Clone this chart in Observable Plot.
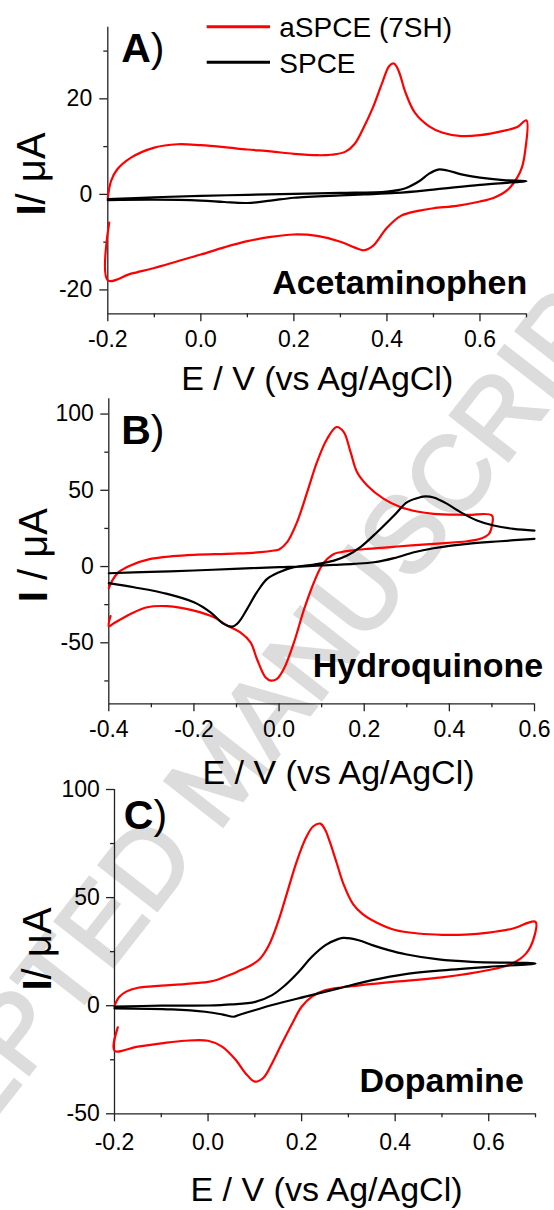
<!DOCTYPE html>
<html>
<head>
<meta charset="utf-8">
<script src="https://cdn.jsdelivr.net/npm/d3@7"></script>
<script src="https://cdn.jsdelivr.net/npm/@observablehq/plot@0.6"></script>
<style>
  body { margin: 0; background: #fff; }
  #root { position: relative; width: 554px; height: 1210px; overflow: hidden; background: #fff;
          font-family: "Liberation Sans", Arial, sans-serif; }
  .panel { position: absolute; left: 0; z-index: 1; }
  #wm { position: absolute; z-index: 0; white-space: nowrap; color: #dcdcdc; font-weight: normal;
        -webkit-text-stroke: 3px #dcdcdc;
        font-family: "Liberation Sans", Arial, sans-serif; font-size: 107px; line-height: 1; }
  #legend { position: absolute; left: 0; top: 0; z-index: 2; }
</style>
</head>
<body>
<div id="root"></div>
<script>
// ---------------- data ----------------
const seriesNames = ["aSPCE (7SH)", "SPCE"];
const seriesColors = ["#ff0000", "#000000"];
const panelLetters = ["A", "B", "C"];
const analytes = ["Acetaminophen", "Hydroquinone", "Dopamine"];
const xTitles = ["E / V (vs Ag/AgCl)", "E / V (vs Ag/AgCl)", "E / V (vs Ag/AgCl)"];
const yTitles = ["I/ μA", "I / μA", "I/ μA"];
const watermark = "ACCEPTED MANUSCRIPT";

const xDomains = [[-0.2, 0.7], [-0.4, 0.6], [-0.2, 0.7]];
const yDomains = [[-25, 35], [-90, 110], [-50, 100]];
const xMajorTicks = [[-0.2, 0.0, 0.2, 0.4, 0.6], [-0.4, -0.2, 0.0, 0.2, 0.4, 0.6], [-0.2, 0.0, 0.2, 0.4, 0.6]];
const xMinorTicks = [[-0.1, 0.1, 0.3, 0.5, 0.7], [-0.3, -0.1, 0.1, 0.3, 0.5], [-0.1, 0.1, 0.3, 0.5, 0.7]];
const yMajorTicks = [[-20, 0, 20], [-50, 0, 50, 100], [-50, 0, 50, 100]];
const yMinorTicks = [[-10, 10, 30], [-75, -25, 25, 75], [-25, 25, 75]];

// Acetaminophen [E (V), I (µA)]
const acetaminophen_aSPCE = [
  [-0.197,-5.9],[-0.2,-18.0],[-0.15,-16.6],[-0.1,-15.4],[-0.05,-14.0],[0.0,-12.6],[0.05,-11.1],[0.1,-9.8],
  [0.15,-8.9],[0.2,-8.4],[0.25,-8.7],[0.3,-9.9],[0.33,-11.1],[0.35,-11.7],[0.37,-10.8],[0.4,-7.0],[0.43,-4.5],
  [0.47,-3.4],[0.5,-2.9],[0.55,-2.4],[0.6,-1.5],[0.63,-0.7],[0.66,1.0],[0.68,3.5],[0.69,5.6],[0.697,9.0],[0.7,15.5],
  [0.68,14.1],[0.65,13.3],[0.6,12.4],[0.56,12.2],[0.52,12.9],[0.49,14.3],[0.46,17.1],[0.44,21.3],[0.425,25.9],
  [0.415,27.4],[0.405,26.9],[0.39,23.4],[0.37,18.2],[0.35,14.0],[0.33,10.5],[0.31,8.9],[0.28,8.3],[0.25,8.2],
  [0.2,8.5],[0.15,9.0],[0.1,9.4],[0.05,9.9],[0.0,10.3],[-0.05,10.5],[-0.1,9.8],[-0.15,7.7],[-0.18,5.2],
  [-0.193,2.8],[-0.2,-0.7]
];
const acetaminophen_SPCE = [
  [-0.2,-1.0],[-0.1,-0.6],[0.0,-0.3],[0.1,-0.1],[0.2,0.1],[0.3,0.3],[0.4,0.6],[0.44,1.3],[0.47,2.8],[0.49,4.3],
  [0.51,5.2],[0.53,5.0],[0.56,4.2],[0.6,3.5],[0.65,3.0],[0.7,2.8],
  [0.6,2.0],[0.5,1.0],[0.42,0.3],[0.35,0.0],[0.3,-0.2],[0.2,-0.7],[0.15,-1.3],[0.1,-1.8],[0.05,-1.6],[0.0,-1.3],
  [-0.1,-1.1],[-0.2,-1.2]
];

// Hydroquinone
const hydroquinone_aSPCE = [
  [-0.4,-14.2],[-0.392,-9.2],[-0.377,-3.7],[-0.349,0.7],[-0.302,5.0],[-0.25,6.8],[-0.2,7.7],[-0.106,8.5],
  [-0.044,9.4],[-0.012,10.5],[0.0,11.2],[0.019,16.0],[0.042,29.0],[0.066,48.8],[0.089,68.5],[0.113,83.8],
  [0.135,91.5],[0.152,88.2],[0.168,75.0],[0.183,62.0],[0.207,53.2],[0.246,44.4],[0.285,39.0],[0.324,36.1],
  [0.363,34.6],[0.442,33.9],[0.5,33.5],
  [0.5,26.9],[0.493,21.4],[0.473,18.2],[0.442,16.6],[0.363,14.9],[0.285,13.3],[0.207,11.6],[0.168,10.5],
  [0.144,9.4],[0.129,8.3],[0.113,5.0],[0.099,0.0],[0.082,-10.3],[0.059,-27.8],[0.035,-49.7],[0.011,-67.2],
  [-0.005,-73.7],[-0.019,-74.8],[-0.032,-72.6],[-0.052,-60.6],[-0.067,-49.7],[-0.091,-43.1],[-0.122,-38.7],
  [-0.153,-33.3],[-0.2,-28.9],[-0.263,-26.0],[-0.31,-26.7],[-0.349,-31.1],[-0.388,-37.2],[-0.4,-39.2],[-0.396,-32.5]
];
const hydroquinone_SPCE = [
  [-0.4,-10.9],[-0.341,-13.6],[-0.263,-17.9],[-0.2,-23.4],[-0.161,-30.0],[-0.13,-37.6],[-0.11,-39.4],
  [-0.095,-36.5],[-0.075,-27.8],[-0.052,-16.8],[-0.028,-8.1],[0.0,-3.7],[0.035,-0.4],[0.082,1.3],[0.129,3.9],
  [0.16,7.2],[0.191,12.7],[0.23,22.5],[0.27,33.5],[0.301,42.2],[0.332,45.5],[0.344,46.0],[0.363,45.3],
  [0.395,41.1],[0.426,35.7],[0.465,30.2],[0.504,26.9],[0.551,24.7],[0.6,23.6],
  [NaN,NaN],
  [0.6,18.2],[0.52,16.6],[0.442,14.9],[0.363,12.0],[0.317,9.4],[0.27,5.5],[0.223,2.8],[0.176,1.8],[0.129,1.1],
  [0.05,0.0],[0.0,-0.4],[-0.106,-1.5],[-0.2,-2.6],[-0.302,-3.5],[-0.4,-4.4]
];

// Dopamine
const dopamine_aSPCE = [
  [-0.193,-10.0],[-0.2,-20.8],[-0.15,-18.9],[-0.1,-17.4],[-0.05,-16.2],[0.0,-16.2],[0.03,-18.9],[0.059,-25.0],
  [0.08,-31.2],[0.1,-35.1],[0.119,-33.2],[0.137,-26.6],[0.158,-17.4],[0.18,-8.2],[0.2,-0.5],[0.222,4.2],
  [0.251,7.2],[0.3,8.8],[0.4,11.1],[0.5,13.1],[0.6,16.5],[0.65,19.5],[0.68,24.2],[0.695,30.3],[0.7,38.8],
  [0.65,35.6],[0.6,33.8],[0.55,32.9],[0.5,32.8],[0.45,33.4],[0.4,35.0],[0.36,38.5],[0.33,42.5],[0.31,47.0],
  [0.29,56.0],[0.275,66.0],[0.26,76.0],[0.25,81.5],[0.24,84.2],[0.225,83.0],[0.21,78.0],[0.19,67.0],[0.17,53.0],
  [0.15,39.0],[0.13,28.0],[0.11,21.5],[0.09,18.5],[0.07,16.5],[0.05,14.5],[0.02,12.0],[0.0,11.0],[-0.05,10.0],
  [-0.1,9.3],[-0.15,8.3],[-0.175,6.5],[-0.19,4.0],[-0.2,0.0]
];
const dopamine_SPCE = [
  [-0.2,-0.4],[-0.1,0.0],[0.0,0.1],[0.05,0.6],[0.101,1.8],[0.137,4.9],[0.165,9.5],[0.194,15.7],[0.222,22.6],
  [0.251,28.0],[0.279,30.9],[0.289,31.4],[0.322,30.3],[0.351,28.0],[0.386,25.7],[0.422,23.8],[0.493,21.4],
  [0.564,20.3],[0.7,19.5],
  [0.6,18.0],[0.493,16.2],[0.422,14.6],[0.351,11.8],[0.279,8.0],[0.208,4.2],[0.137,0.3],[0.101,-2.0],
  [0.066,-4.3],[0.055,-5.1],[0.03,-4.0],[-0.006,-2.8],[-0.077,-1.7],[-0.2,-1.2]
];

const curves = [
  [acetaminophen_aSPCE, acetaminophen_SPCE],
  [hydroquinone_aSPCE, hydroquinone_SPCE],
  [dopamine_aSPCE, dopamine_SPCE]
];

// ---------------- layout (pixels in page) ----------------
const W = 554;
const layouts = [
  {svgTop: 0,   height: 420, left: 107.3, right: 526, top: 26.7, bottom: 313.3, xPad: 8.7, yPad: 7.6,
   letterX: 120.7, letterBase: 61, nameRight: 526.7, nameBase: 293.3, xTitleX: 316.7, xTitleBase: 389,
   yTitleBaseX: 44.3, yTitleStartY: 215},
  {svgTop: 390, height: 410, left: 108.3, right: 534, top: 398.3, bottom: 703.3, xPad: 9.3, yPad: 7,
   letterX: 120.7, letterBase: 443.3, nameRight: 542.7, nameBase: 676.7, xTitleX: 338, xTitleBase: 783,
   yTitleBaseX: 46.7, yTitleStartY: 601.7},
  {svgTop: 780, height: 430, left: 114, right: 535, top: 789, bottom: 1113.3, xPad: 12, yPad: 6.7,
   letterX: 123.3, letterBase: 828, nameRight: 523.3, nameBase: 1091.7, xTitleX: 326, xTitleBase: 1200,
   yTitleBaseX: 50.7, yTitleStartY: 990}
];
const FS = {tick: 23, letter: 41, name: 34, xTitle: 34, yTitle: 40, legend: 28};
const FONT = "'Liberation Sans', Arial, Helvetica, sans-serif";
const axisColor = "#222";

const root = document.getElementById("root");

// watermark (behind)
const wm = document.createElement("div");
wm.id = "wm";
wm.textContent = watermark;
wm.style.left = "218px";
wm.style.top = "773px";
wm.style.transform = "translate(-50%, -50%) rotate(-52deg)";
root.appendChild(wm);

function makePanel(i) {
  const p = layouts[i];
  const ml = p.left, mr = W - p.right, mt = p.top - p.svgTop, mb = p.svgTop + p.height - p.bottom;
  const at = (ax, ay) => ({frameAnchor: "top-left", lineAnchor: "middle", dx: ax - ml, dy: ay - p.svgTop - mt});
  const mid = (base, fs) => base - 0.32 * fs;
  const xd = xDomains[i], yd = yDomains[i];
  const yTitle = yTitles[i];
  const first = yTitle[0];
  let rest = yTitle.slice(1);
  let restShift = 0.278 * FS.yTitle;
  if (rest.startsWith(" ")) { restShift += 0.278 * FS.yTitle; rest = rest.trimStart(); }
  const yAnchorX = p.yTitleBaseX - 0.32 * FS.yTitle;

  const marks = [
    Plot.ruleX([xd[0]], {stroke: axisColor, strokeWidth: 1.3}),
    Plot.ruleY([yd[0]], {stroke: axisColor, strokeWidth: 1.3}),
    Plot.axisX({ticks: xMajorTicks[i], tickSize: 8, tickPadding: p.xPad, fontSize: FS.tick,
                tickFormat: d => d.toFixed(1), label: null, stroke: axisColor, strokeWidth: 1.3}),
    Plot.axisX({ticks: xMinorTicks[i], tickSize: 4, tickFormat: () => "", label: null,
                stroke: axisColor, strokeWidth: 1.3}),
    Plot.axisY({ticks: yMajorTicks[i], tickSize: 8, tickPadding: p.yPad, fontSize: FS.tick,
                tickFormat: d => String(d), label: null, stroke: axisColor, strokeWidth: 1.3}),
    Plot.axisY({ticks: yMinorTicks[i], tickSize: 4, tickFormat: () => "", label: null,
                stroke: axisColor, strokeWidth: 1.3}),
    Plot.line(curves[i][0], {x: d => d[0], y: d => d[1], stroke: seriesColors[0], strokeWidth: 2.2,
                             curve: "catmull-rom"}),
    Plot.line(curves[i][1], {x: d => d[0], y: d => d[1], stroke: seriesColors[1], strokeWidth: 2.2,
                             curve: "catmull-rom"}),
    // panel letter
    Plot.text([panelLetters[i]], {text: d => d, ...at(p.letterX, mid(p.letterBase, FS.letter)),
      textAnchor: "start", fontSize: FS.letter, fontWeight: "bold", fill: "black"}),
    Plot.text([")"], {text: d => d, ...at(p.letterX + 0.722 * FS.letter, mid(p.letterBase, FS.letter)),
      textAnchor: "start", fontSize: FS.letter, fill: "black"}),
    // analyte name
    Plot.text([analytes[i]], {text: d => d, ...at(p.nameRight, mid(p.nameBase, FS.name)),
      textAnchor: "end", fontSize: FS.name, fontWeight: "bold", fill: "black"}),
    // x title
    Plot.text([xTitles[i]], {text: d => d, ...at(p.xTitleX, mid(p.xTitleBase, FS.xTitle)),
      textAnchor: "middle", fontSize: FS.xTitle, fill: "black"}),
    // y title (rotated): bold "I" then regular rest
    Plot.text([first], {text: d => d, ...at(yAnchorX, p.yTitleStartY), rotate: -90,
      textAnchor: "start", fontSize: FS.yTitle, fontWeight: "bold", fill: "black"}),
    Plot.text([rest], {text: d => d, ...at(yAnchorX, p.yTitleStartY - restShift), rotate: -90,
      textAnchor: "start", fontSize: FS.yTitle, fill: "black"})
  ];

  const svg = Plot.plot({
    width: W, height: p.height,
    marginLeft: ml, marginRight: mr, marginTop: mt, marginBottom: mb,
    x: {domain: xd, label: null},
    y: {domain: yd, label: null},
    style: {fontFamily: FONT, background: "transparent", overflow: "visible", color: "black"},
    marks
  });
  svg.classList.add("panel");
  svg.style.top = p.svgTop + "px";
  return svg;
}

for (let i = 0; i < 3; i++) root.appendChild(makePanel(i));

// legend (panel A, upper right)
const legend = d3.create("svg").attr("id", "legend").attr("width", W).attr("height", 90)
  .style("font-family", FONT);
const legendRows = [{y: 26.7, base: 36.7}, {y: 62.3, base: 72.7}];
seriesNames.forEach((name, k) => {
  legend.append("line").attr("x1", 206.7).attr("x2", 270).attr("y1", legendRows[k].y).attr("y2", legendRows[k].y)
    .attr("stroke", seriesColors[k]).attr("stroke-width", 3);
  legend.append("text").attr("x", 279.3).attr("y", legendRows[k].base).attr("font-size", FS.legend)
    .attr("fill", "black").text(name);
});
root.appendChild(legend.node());
</script>
</body>
</html>
